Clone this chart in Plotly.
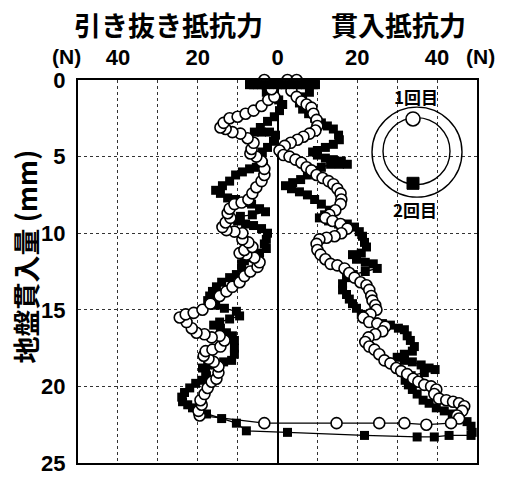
import plotly.graph_objects as go

# ---------------- data ----------------
# 1回目 (open circles): penetration branch (top -> bottom)
c_pen_f = [2.5, 4.8, 3.5, 4.8, 6.0, 7.3, 8.5, 9.0, 9.8, 10.0,
           9.5, 8.0, 6.5, 5.0, 3.3, 1.8, 0.5, 1.5, 3.0, 4.5,
           6.0, 7.3, 8.5, 9.8, 11.3, 12.8, 14.0, 15.0, 15.8, 16.0,
           15.8, 14.5, 13.0, 12.0, 13.8, 15.8, 17.5, 16.0, 14.3, 12.3,
           10.5, 9.8, 10.0, 10.8, 12.0, 13.3, 15.0, 16.8, 18.0, 19.3,
           20.8, 22.3, 23.0, 23.5, 23.8, 24.5, 24.8, 23.3, 21.5, 23.0,
           25.0, 27.0, 26.3, 24.5, 22.8, 22.0, 23.0, 24.3, 25.5, 26.8,
           28.3, 29.8, 31.0, 32.5, 34.0, 35.3, 36.8, 38.5, 39.8, 39.3,
           40.5, 42.3, 44.0, 45.5, 46.8, 46.3, 45.0, 45.5]
c_pen_d = [0.0, 0.0, 0.7, 1.1, 1.4, 1.6, 1.8, 2.2, 2.6, 3.0,
           3.3, 3.5, 3.7, 3.9, 4.1, 4.3, 4.6, 4.9, 5.0, 5.2,
           5.4, 5.7, 5.9, 6.2, 6.4, 6.6, 6.8, 7.1, 7.4, 7.8,
           8.1, 8.5, 8.8, 9.0, 9.2, 9.4, 9.7, 10.0, 10.2, 10.3,
           10.4, 10.7, 11.1, 11.4, 11.7, 12.0, 12.1, 12.3, 12.6, 12.9,
           13.2, 13.4, 13.7, 14.1, 14.4, 14.7, 15.0, 15.3, 15.5, 15.8,
           15.9, 16.1, 16.4, 16.6, 16.8, 17.1, 17.4, 17.6, 17.9, 18.3,
           18.5, 18.8, 19.0, 19.2, 19.5, 19.7, 19.9, 20.0, 20.2, 20.5,
           20.8, 20.9, 21.0, 21.1, 21.3, 21.6, 21.9, 22.1]
# 1回目: reversal at the bottom (right -> left)
c_bot_f = [43.5, 37.3, 31.8, 25.5, 14.8, -3.3]
c_bot_d = [22.4, 22.5, 22.4, 22.4, 22.4, 22.4]
# 1回目: pull-out branch (listed top -> bottom)
c_pull_f = [-3.3, -1.5, -0.8, -2.3, -4.0, -6.0, -8.0, -10.0, -12.0, -13.5,
            -14.3, -13.0, -11.3, -9.3, -7.5, -6.0, -6.5, -6.8, -5.3, -4.0,
            -3.3, -3.3, -4.0, -5.3, -6.3, -7.3, -9.0, -10.8, -12.0, -12.5,
            -11.8, -13.0, -13.8, -12.8, -10.8, -8.8, -8.8, -7.3, -6.3, -8.3,
            -9.5, -7.8, -5.8, -4.5, -5.0, -6.8, -8.3, -9.5, -11.3, -12.8,
            -14.5, -16.8, -18.8, -21.0, -23.0, -24.5, -22.8, -21.5, -20.3, -18.3,
            -16.5, -14.5, -13.3, -14.3, -16.3, -18.0, -18.5, -17.3, -16.0, -14.8,
            -14.8, -15.3, -16.5, -17.5, -18.3, -19.3, -19.0, -19.8, -19.5]
c_pull_d = [0.0, 0.6, 1.1, 1.3, 1.7, 2.0, 2.2, 2.4, 2.5, 2.8,
            3.1, 3.2, 3.4, 3.5, 3.8, 4.1, 4.5, 4.8, 5.0, 5.3,
            5.8, 6.2, 6.6, 7.0, 7.4, 7.8, 8.0, 8.1, 8.4, 8.7,
            9.0, 9.3, 9.6, 9.8, 9.9, 10.0, 10.4, 10.6, 10.9, 11.1,
            11.3, 11.4, 11.6, 11.9, 12.2, 12.5, 12.8, 13.2, 13.5, 13.8,
            14.1, 14.6, 15.0, 15.2, 15.3, 15.5, 15.8, 16.2, 16.5, 16.6,
            16.8, 16.7, 17.0, 17.4, 17.6, 17.7, 18.0, 18.2, 18.4, 18.7,
            19.1, 19.5, 19.7, 20.1, 20.5, 20.9, 21.2, 21.6, 21.9]

# 2回目 (filled squares): swing at the surface
s_top_f = [-7.0, -6.0, -5.0, -4.0, -3.0, -2.0, -1.0, 0.0, 1.0, 2.0,
           3.0, 4.0, 5.0, 6.0, 7.0, 8.0, 9.0, 9.5]
s_top_d = [0.3, 0.3, 0.3, 0.3, 0.3, 0.3, 0.3, 0.3, 0.3, 0.3,
           0.3, 0.3, 0.3, 0.3, 0.3, 0.3, 0.3, 0.3]
# 2回目: penetration branch (top -> bottom)
s_pen_f = [8.0, 6.3, 5.5, 6.3, 7.8, 9.3, 11.0, 12.5, 14.0, 15.3,
           15.5, 14.0, 12.0, 10.0, 8.8, 10.0, 12.0, 14.0, 16.0, 17.5,
           15.5, 13.3, 11.0, 9.3, 7.5, 5.8, 3.8, 2.0, 3.5, 5.5,
           7.5, 9.3, 11.0, 13.0, 11.8, 10.5, 12.8, 15.3, 17.5, 19.3,
           20.5, 21.3, 21.8, 22.3, 21.0, 18.8, 19.8, 22.0, 24.0, 25.0,
           22.0, 19.0, 17.3, 16.3, 16.3, 17.3, 18.0, 18.8, 19.8, 21.0,
           22.5, 24.3, 26.3, 28.3, 30.3, 31.8, 32.5, 33.3, 34.3, 33.8,
           31.8, 30.0, 31.8, 33.8, 36.0, 38.0, 39.5, 36.8, 33.5, 32.0,
           32.8, 33.8, 35.0, 36.5, 38.0, 39.8, 41.8, 43.8, 45.8, 47.5,
           48.5, 48.8]
s_pen_d = [0.8, 1.1, 1.5, 1.9, 2.2, 2.5, 2.8, 3.0, 3.2, 3.6,
           3.9, 4.2, 4.4, 4.6, 4.7, 4.9, 5.1, 5.2, 5.3, 5.5,
           5.5, 5.5, 5.7, 5.9, 6.2, 6.5, 6.7, 6.9, 7.1, 7.3,
           7.5, 7.8, 8.1, 8.5, 8.8, 9.0, 9.2, 9.4, 9.4, 9.6,
           9.9, 10.2, 10.6, 10.9, 11.3, 11.4, 11.7, 11.9, 12.0, 12.3,
           12.5, 12.7, 12.9, 13.3, 13.7, 14.0, 14.3, 14.6, 14.9, 15.3,
           15.6, 15.8, 15.9, 16.0, 16.2, 16.3, 16.7, 17.0, 17.4, 17.7,
           17.9, 18.1, 18.3, 18.4, 18.6, 18.8, 18.9, 19.1, 19.3, 19.6,
           19.9, 20.2, 20.5, 20.9, 21.1, 21.4, 21.6, 21.8, 22.0, 22.3,
           22.6, 23.0]
# 2回目: reversal at the bottom (right -> left)
s_bot_f = [48.5, 43.0, 39.3, 35.0, 21.8, 2.5, -7.8, -10.3, -14.0, -17.8]
s_bot_d = [23.2, 23.2, 23.3, 23.3, 23.2, 23.0, 22.9, 22.4, 22.1, 21.8]
# 2回目: pull-out branch (listed top -> bottom)
s_pull_f = [-2.8, -2.0, 0.3, 1.3, 0.5, -0.8, -2.5, -4.3, -5.8, -4.0,
            -2.0, -0.5, -1.0, -2.5, -3.8, -4.0, -3.5, -5.3, -7.0, -8.8,
            -10.5, -12.0, -13.8, -15.5, -14.3, -12.5, -10.5, -8.5, -6.5, -4.5,
            -3.0, -6.3, -9.3, -10.0, -8.0, -6.0, -4.0, -2.5, -2.8, -3.3,
            -2.8, -4.5, -6.5, -8.3, -9.0, -9.0, -10.3, -12.0, -14.0, -15.3,
            -16.3, -17.0, -17.5, -15.5, -13.3, -10.3, -9.5, -12.0, -14.5, -16.0,
            -14.3, -12.8, -11.3, -10.8, -10.8, -10.8, -11.5, -13.5, -15.5, -17.5,
            -18.8, -18.0, -17.8, -19.0, -20.5, -22.0, -23.3, -24.0, -23.8, -22.5,
            -21.3, -20.0]
s_pull_d = [0.8, 1.1, 1.3, 1.6, 2.0, 2.4, 2.7, 3.1, 3.4, 3.4,
            3.4, 3.6, 4.0, 4.4, 4.7, 5.1, 5.5, 5.7, 5.8, 6.0,
            6.2, 6.6, 6.9, 7.2, 7.4, 7.7, 7.8, 8.0, 8.1, 8.4,
            8.6, 8.8, 8.9, 9.2, 9.4, 9.5, 9.7, 10.0, 10.4, 10.7,
            11.0, 11.3, 11.6, 11.8, 12.0, 12.3, 12.7, 12.9, 13.2, 13.5,
            13.8, 14.1, 14.4, 14.7, 14.9, 15.1, 15.4, 15.6, 15.8, 16.0,
            16.2, 16.5, 16.7, 17.0, 17.5, 17.9, 18.3, 18.4, 18.6, 18.6,
            18.8, 19.1, 19.3, 19.6, 19.8, 20.1, 20.4, 20.7, 21.0, 21.2,
            21.4, 21.6]

x_tick_vals = [-40, -30, -20, -10, 0, 10, 20, 30, 40]
x_tick_text = ["40", "", "20", "", "0", "", "20", "", "40"]
y_tick_vals = [0, 5, 10, 15, 20, 25]

title_pull = "引き抜き抵抗力"
title_push = "貫入抵抗力"
y_title = "地盤貫入量 (mm)"
label_run1 = "1回目"
label_run2 = "2回目"
unit = "(N)"

# ---------------- figure ----------------
c_f = c_pen_f + c_bot_f + c_pull_f[::-1]
c_d = c_pen_d + c_bot_d + c_pull_d[::-1]
s_f = s_top_f + s_pen_f + s_bot_f + s_pull_f[::-1]
s_d = s_top_d + s_pen_d + s_bot_d + s_pull_d[::-1]

NUM = "Liberation Sans"
CJK = "Noto Sans CJK JP"

sq_marker = dict(symbol="square", size=9, color="black")
fig = go.Figure()
fig.add_trace(go.Scatter(
    x=s_f, y=s_d, mode="lines+markers", cliponaxis=False,
    line=dict(color="black", width=1.3), marker=sq_marker,
    name=label_run2, showlegend=False))
fig.add_trace(go.Scatter(
    x=c_f, y=c_d, mode="lines+markers", cliponaxis=False,
    line=dict(color="black", width=1.3),
    marker=dict(symbol="circle", size=11, color="white",
                line=dict(color="black", width=1.6)),
    name=label_run1, showlegend=False))
# surface swing of run 2 redrawn on top (it covers the circles there)
fig.add_trace(go.Scatter(
    x=s_top_f, y=s_top_d, mode="lines+markers", cliponaxis=False,
    line=dict(color="black", width=1.3), marker=sq_marker,
    name=label_run2, showlegend=False, hoverinfo="skip"))

W, H = 507, 488
L, R, T, B = 78, 30, 80, 15
PW, PH = W - L - R, H - T - B


def px(xp):
    return (xp - L) / PW


def py(yp):
    return 1 - (yp - T) / PH


annotations = []
for text, xp in ((title_pull, 168), (title_push, 398)):
    annotations.append(dict(text=text, x=px(xp), y=py(23), xref="paper", yref="paper",
                            xanchor="center", yanchor="middle", showarrow=False,
                            font=dict(family=CJK, size=27, color="black", weight="bold")))
for xp in (66, 480):
    annotations.append(dict(text=unit, x=px(xp), y=py(56), xref="paper", yref="paper",
                            xanchor="center", yanchor="middle", showarrow=False,
                            font=dict(family=NUM, size=21, color="black", weight="bold")))
annotations.append(dict(text=y_title, x=px(25), y=py(261), xref="paper", yref="paper",
                        xanchor="center", yanchor="middle", showarrow=False, textangle=-90,
                        font=dict(family=CJK, size=27, color="black", weight="bold")))
annotations.append(dict(text=label_run1, x=px(416), y=py(97), xref="paper", yref="paper",
                        xanchor="center", yanchor="middle", showarrow=False,
                        font=dict(family=CJK, size=17, color="black", weight="bold")))
annotations.append(dict(text=label_run2, x=px(415), y=py(213), xref="paper", yref="paper",
                        xanchor="center", yanchor="middle", showarrow=False,
                        font=dict(family=CJK, size=17, color="black", weight="bold")))

shapes = []


def circ(xc, yc, r, fill="rgba(0,0,0,0)", lw=1.5, kind="circle"):
    return dict(type=kind, xref="paper", yref="paper", xsizemode="pixel", ysizemode="pixel",
                xanchor=px(xc), yanchor=py(yc), x0=-r, x1=r, y0=-r, y1=r,
                line=dict(color="black", width=lw), fillcolor=fill, layer="above")


shapes.append(circ(417, 154, 45, lw=1.4))
shapes.append(circ(416.5, 153, 33.5, lw=1.4))
shapes.append(circ(413, 120, 7, fill="white", lw=1.6))
shapes.append(circ(413, 186, 6, fill="black", lw=1, kind="rect"))

fig.update_layout(
    width=W, height=H,
    margin=dict(l=L, r=R, t=T, b=B),
    paper_bgcolor="white", plot_bgcolor="white",
    annotations=annotations, shapes=shapes,
    xaxis=dict(range=[-50, 50], side="top", tickvals=x_tick_vals, ticktext=x_tick_text,
               showgrid=True, gridcolor="#333", griddash="dot", gridwidth=1,
               zeroline=True, zerolinecolor="black", zerolinewidth=1.6,
               showline=True, linecolor="black", linewidth=2.2, mirror=True,
               ticks="", ticklabelstandoff=4,
               tickfont=dict(family=NUM, size=22, color="black", weight="bold")),
    yaxis=dict(range=[25, 0], tickvals=y_tick_vals,
               showgrid=True, gridcolor="#333", griddash="dot", gridwidth=1,
               zeroline=False,
               showline=True, linecolor="black", linewidth=2.2, mirror=True,
               ticks="", ticklabelstandoff=6,
               tickfont=dict(family=NUM, size=22, color="black", weight="bold")),
)

fig.write_html("out.html")
